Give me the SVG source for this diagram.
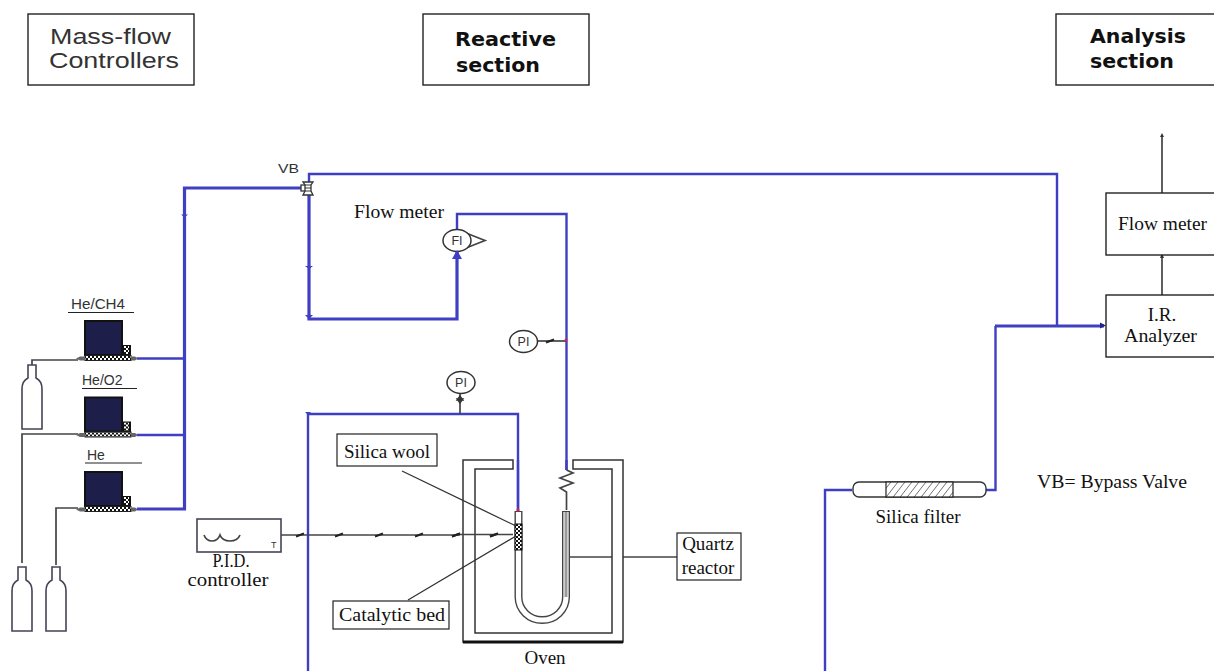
<svg xmlns="http://www.w3.org/2000/svg" width="1214" height="671" viewBox="0 0 1214 671">
<style>
.box{fill:#fff;stroke:#222;stroke-width:1.4}
.bl{fill:none;stroke:#3f3fc4;stroke-width:2.4}
.blt{fill:none;stroke:#3f3fc4;stroke-width:3.2}
.gr{fill:none;stroke:#444;stroke-width:1.7}
.thin{fill:none;stroke:#333;stroke-width:1.3}
.se{font-family:"Liberation Serif",serif;font-size:19px;fill:#111}
.sa{font-family:"Liberation Sans",sans-serif;fill:#333}
.dj{font-family:"DejaVu Sans",sans-serif;font-weight:bold;font-size:20px;fill:#111}
.m{text-anchor:middle}
.cyl{fill:#fff;stroke:#445;stroke-width:1.6}
.mfc{fill:#1e1e4a;stroke:#111;stroke-width:2}
</style>
<defs>
<pattern id="hatch" width="7" height="16" patternUnits="userSpaceOnUse" patternTransform="skewX(-38)"><rect width="7" height="16" fill="#fff"/><path d="M0 0V16" stroke="#111" stroke-width="1.2"/></pattern>
<pattern id="chk" width="4" height="4" patternUnits="userSpaceOnUse"><rect width="4" height="4" fill="#fff"/><rect width="2" height="2" fill="#111"/><rect x="2" y="2" width="2" height="2" fill="#111"/></pattern>
<g id="mfc-shape">
<rect class="mfc" x="85" y="321" width="37" height="34"/>
<rect x="122" y="345" width="9" height="11" fill="#111"/>
<rect x="124" y="346" width="5" height="8" fill="url(#chk)"/>
<rect x="85" y="355.500" width="46" height="5" fill="url(#chk)" stroke="#222" stroke-width="1"/>
<path d="M76 358.500l4-2h5v4h-5z" fill="#666"/>
<path d="M131 356.500h4l3 2-3 2h-4z" fill="#666"/>
</g>
<path id="cyl-shape" class="cyl" d="M-4 0H4V11L4 13C8 15 10 19 10 24V64H-10V24C-10 19 -8 15 -4 13Z"/>
</defs>

<g id="connectors">
<path class="bl" d="M137 358.500H184M137 435H184"/>
<path class="blt" d="M137 509H184.500V188H304"/>
<path class="bl" d="M309 182V174H1057V325"/>
<path class="blt" d="M309 194V319H457V252"/>
<path class="bl" d="M457 230V214H566.500V470"/>
<path class="bl" d="M308 671V414H518V511"/>
<path d="M181 214.500l3.500 3 3.500-3zM305 266l4 3 4-3zM305 315l4 4 4-4zM305 412l3 3 3-3z" fill="#3f3fc4"/>
<path class="gr" d="M460 414V392"/>
<path class="thin" d="M460 403l-3-4h6zM460 396l-3 4h6z"/>
<path class="blt" d="M995 326H1104"/>
<path class="bl" d="M825 671V490H852M986 490H995.500V326"/>
<path d="M1100 322.500l6 3-6 3z" fill="#22228c"/>
<path class="gr" d="M32 365V360H78M22 563V434H78M56 565V508H78"/>
<path class="gr" d="M1162 295V254M1162 193V135"/>
<path d="M1160 258l2-5 2 5zM1160 137l2-4 2 4z" fill="#333"/>
<path class="gr" d="M281 535H460"/>
<path class="gr" d="M537 341H566"/>
<path d="M296 536.500l8-3M335 536.500l8-3M375 536.500l8-3M415 536.500l8-3M452 536.500l8-3M490 536.500l8-3M546 342.500l8-3" stroke="#222" stroke-width="2.200"/>
<path class="gr" d="M569 557H677"/>
<circle cx="566" cy="340" r="1.500" fill="#e02040"/>
</g>

<g id="mass-flow-label"><rect class="box" x="28" y="14" width="166" height="71"/>
<text class="sa" font-size="22" x="50" y="44" textLength="121" lengthAdjust="spacingAndGlyphs">Mass-flow</text><text class="sa" font-size="22" x="49" y="68" textLength="130" lengthAdjust="spacingAndGlyphs">Controllers</text></g>
<g id="reactive-label"><rect class="box" x="423" y="14" width="166" height="71"/>
<text class="dj" x="455" y="46" textLength="101" lengthAdjust="spacingAndGlyphs">Reactive</text><text class="dj" x="456" y="72" textLength="84" lengthAdjust="spacingAndGlyphs">section</text></g>
<g id="analysis-label"><rect class="box" x="1056" y="14" width="170" height="71"/>
<text class="dj" x="1090" y="43" textLength="96" lengthAdjust="spacingAndGlyphs">Analysis</text><text class="dj" x="1090" y="68" textLength="84" lengthAdjust="spacingAndGlyphs">section</text></g>

<g id="mfc-1"><use href="#mfc-shape"/><text class="sa" font-size="14" x="71" y="309" textLength="54" lengthAdjust="spacingAndGlyphs">He/CH4</text><path d="M68 312.500H134" stroke="#222" stroke-width="1.200"/></g>
<g id="mfc-2"><use href="#mfc-shape" y="76.500"/><text class="sa" font-size="14" x="82" y="385">He/O2</text><path d="M82 388.500H137" stroke="#222" stroke-width="1.200"/></g>
<g id="mfc-3"><use href="#mfc-shape" y="151"/><text class="sa" font-size="14" x="87" y="460">He</text><path d="M85 463H142" stroke="#222" stroke-width="1.200"/></g>
<g id="cylinder-1"><use href="#cyl-shape" x="32" y="365"/></g>
<g id="cylinder-2"><use href="#cyl-shape" x="22" y="567"/></g>
<g id="cylinder-3"><use href="#cyl-shape" x="56" y="567"/></g>

<g id="pid-controller"><rect x="197" y="519" width="84" height="33" fill="#fff" stroke="#445" stroke-width="1.600"/>
<path class="gr" d="M204 535c3 8 13 8 16 0c3 8 17 8 20 0"/>
<text class="sa" font-size="9" x="271" y="548" fill="#555">T</text>
<text class="se m" font-size="13" x="231" y="567" textLength="37" lengthAdjust="spacingAndGlyphs">P.I.D.</text>
<text class="se m" font-size="17" x="228" y="586" textLength="81" lengthAdjust="spacingAndGlyphs">controller</text></g>

<g id="valve-vb"><text class="sa" font-size="13" x="278" y="173" fill="#444" textLength="21" lengthAdjust="spacingAndGlyphs">VB</text>
<rect x="301" y="185" width="5" height="6" fill="#fff" stroke="#333" stroke-width="1.300"/>
<path d="M303 182h10l-2 3v6l2 4h-10l2-4v-6z" fill="#fff" stroke="#333" stroke-width="1.300"/><path d="M305 185h6M305 188h6M305 191h6" stroke="#333"/></g>

<g id="flow-meter-fi"><path class="gr" d="M466 233L485 240.500L466 248"/>
<ellipse cx="457" cy="240.500" rx="14" ry="11" fill="#fff" stroke="#333" stroke-width="1.500"/>
<path d="M452 259l5-9 5 9z" fill="#3f3fc4"/>
<text class="sa m" font-size="12.500" x="457" y="245" fill="#222">FI</text>
<text class="se" font-size="18.500" x="354" y="218" textLength="90" lengthAdjust="spacingAndGlyphs">Flow meter</text></g>

<g id="pi-1"><ellipse cx="523.500" cy="341.500" rx="14" ry="11" fill="#fff" stroke="#333" stroke-width="1.500"/><text class="sa m" font-size="12.500" x="523.500" y="346" fill="#222">PI</text></g>
<g id="pi-2"><ellipse cx="461" cy="382.500" rx="14" ry="11" fill="#fff" stroke="#333" stroke-width="1.500"/><text class="sa m" font-size="12.500" x="461" y="387" fill="#222">PI</text></g>

<g id="oven"><path fill="#fff" stroke="#333" stroke-width="1.500" d="M463 460H513V469H475V633H612V469H573V460H623V642H463Z"/>
<path d="M463 642H623" stroke="#111" stroke-width="3"/>
<text class="se m" font-size="18" x="545" y="664">Oven</text></g>
<path class="bl" d="M518 460V511M566.500 460V470"/>

<g id="reactor"><path fill="none" stroke="#444" stroke-width="8" d="M518.500 511V597A23.750 23 0 0 0 566 597V511"/>
<path fill="none" stroke="#fff" stroke-width="5.200" d="M518.500 512V597A23.750 23 0 0 0 566 597V512"/>
<path d="M566 512V597" stroke="#999" stroke-width="3"/>
<rect x="515" y="524" width="7" height="26" fill="url(#chk)" stroke="#111" stroke-width="1"/>
<circle cx="518" cy="510" r="1.500" fill="#e02040"/>
<path class="gr" d="M566.500 470L573 473L560 478L573 483L560 488L566.500 492V510"/></g>
<path class="gr" d="M460 534.500H513" stroke="#111"/>
<path class="thin" d="M402 471L516 526M408 600L516 536"/>
<path d="M452 536.500l8-3M490 536.500l8-3" stroke="#222" stroke-width="2.200"/>

<g id="label-silica-wool"><rect x="337" y="434" width="100" height="32" fill="#fff" stroke="#222" stroke-width="1.200"/><text class="se m" x="387" y="458" font-size="19">Silica wool</text></g>
<g id="label-catalytic-bed"><rect x="333" y="601" width="116" height="28" fill="#fff" stroke="#222" stroke-width="1.200"/><text class="se m" x="392" y="621" font-size="19" textLength="106" lengthAdjust="spacingAndGlyphs">Catalytic bed</text></g>
<g id="label-quartz"><rect x="677" y="533" width="64" height="47" fill="#fff" stroke="#222" stroke-width="1.200"/><text class="se m" x="708" y="550" font-size="19">Quartz</text><text class="se m" x="708" y="574" font-size="19">reactor</text></g>

<g id="silica-filter"><rect x="853" y="482" width="133" height="15" rx="6" fill="#fff" stroke="#333" stroke-width="1.400"/>
<rect x="886" y="482" width="67" height="15" fill="url(#hatch)" stroke="#222" stroke-width="1.200"/>
<text class="se m" x="918" y="523" font-size="18.500">Silica filter</text></g>

<g id="flow-meter-box"><rect class="box" x="1106" y="193" width="120" height="62"/><text class="se" x="1118" y="230" font-size="19" textLength="89" lengthAdjust="spacingAndGlyphs">Flow meter</text></g>
<g id="ir-analyzer"><rect class="box" x="1106" y="295" width="120" height="62"/><text class="se m" x="1162" y="321" font-size="19">I.R.</text><text class="se m" x="1160.500" y="342" font-size="19" textLength="73" lengthAdjust="spacingAndGlyphs">Analyzer</text></g>
<text id="legend" class="se" x="1037" y="488" font-size="18.500" textLength="150" lengthAdjust="spacingAndGlyphs">VB= Bypass Valve</text>
</svg>
